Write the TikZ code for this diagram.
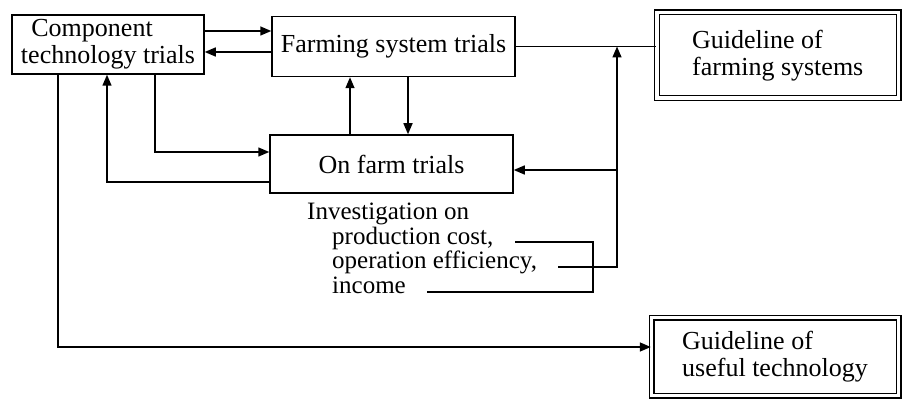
\documentclass[tikz,border=0pt]{standalone}
\usepackage{fontspec}
\setmainfont{Liberation Serif}
\usetikzlibrary{arrows.meta}
\begin{document}
\begin{tikzpicture}[x=1pt,y=-1pt,
  box/.style={draw,line width=1.5pt,inner sep=0pt,align=left,font=\fontsize{26}{27}\selectfont},
  gbox/.style={box,double,double distance=3.2pt,line width=1.4pt},
  conn/.style={line width=1.5pt},
  arr/.style={conn,-{Triangle[length=11pt,width=9pt]}},
  lab/.style={font=\fontsize{25}{24.5}\selectfont,inner sep=0pt,align=left,anchor=west}]
\useasboundingbox (0,0) rectangle (902,401);
% boxes
\node[box,minimum width=192pt,minimum height=59pt] (comp) at (108,44.5) {\hspace*{0.4em}Component\\technology trials};
\node[box,minimum width=243pt,minimum height=60pt] (farm) at (393.5,46.5) {Farming system trials};
\node[box,minimum width=243pt,minimum height=58pt] (onfarm) at (391.5,164) {On farm trials};
\node[gbox,minimum width=241.5pt,minimum height=85.5pt] (gfarm) at (777.75,55.25) {Guideline of\\farming systems};
\node[gbox,minimum width=247pt,minimum height=78pt] (guse) at (775,356.5) {Guideline of\\useful technology};
% investigation text
\node[lab] (inv) at (307,248.5) {Investigation on\\\hspace*{25pt}production cost,\\\hspace*{25pt}operation efficiency,\\\hspace*{25pt}income};
% helper coordinates
\coordinate (ya) at (0,31);
\coordinate (yb) at (0,52);
\coordinate (xa) at (408,0);
\coordinate (xb) at (350,0);
\coordinate (xc) at (155,0);
\coordinate (yc) at (0,152);
\coordinate (yd) at (0,182);
\coordinate (xd) at (107,0);
\coordinate (xe) at (58,0);
\coordinate (ye) at (0,347);
\coordinate (jt) at (617,46.5);
\coordinate (br) at (617,170);
\coordinate (e0) at (558,267);
\coordinate (c0) at (515,242);
\coordinate (i0) at (427,292);
\coordinate (bk) at (593,292);
% connectors
\draw[arr] (comp.east |- ya) -- (farm.west |- ya);
\draw[arr] (farm.west |- yb) -- (comp.east |- yb);
\draw[arr] (farm.south -| xa) -- (onfarm.north -| xa);
\draw[arr] (onfarm.north -| xb) -- (farm.south -| xb);
\draw[arr] (comp.south -| xc) |- (onfarm.west |- yc);
\draw[arr] (onfarm.west |- yd) -| (comp.south -| xd);
\draw[arr] (comp.south -| xe) |- (guse.west |- ye);
\draw[conn] (farm.east) -- (farm.east -| gfarm.west);
\draw[arr] (e0) -| (jt);
\draw[arr] (br) -- (onfarm.east |- br);
\draw[conn] (c0) -| (bk) -- (i0);
\end{tikzpicture}
\end{document}
